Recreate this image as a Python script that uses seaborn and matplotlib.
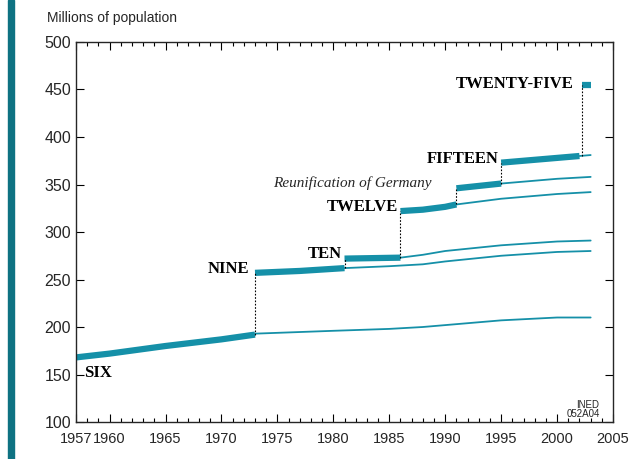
import matplotlib
matplotlib.use("Agg")
import matplotlib.pyplot as plt
from matplotlib.ticker import MultipleLocator, FixedLocator
import seaborn as sns

# thick segments: population of the Union at each composition
six_years = [1957, 1960, 1965, 1970, 1973]
six_pop = [168, 172, 180, 187, 192]
nine_years = [1973, 1977, 1981]
nine_pop = [257, 259, 262]
ten_years = [1981, 1986]
ten_pop = [272, 273]
twelve_years = [1986, 1988, 1990, 1991]
twelve_pop = [322, 323.5, 326.5, 329]
twelve_ger_years = [1991, 1995]
twelve_ger_pop = [346, 351]
fifteen_years = [1995, 1998, 2002]
fifteen_pop = [373, 376, 380]
tf_years = [2002.2, 2003]
tf_pop = [455, 455]

# thin continuations
six_thin_years = [1973, 1980, 1985, 1988, 1990, 1995, 2000, 2003]
six_thin_pop = [193, 196, 198, 200, 202, 207, 210, 210]
nine_thin_years = [1981, 1985, 1988, 1990, 1995, 2000, 2003]
nine_thin_pop = [262, 264, 266, 269, 275, 279, 280]
ten_thin_years = [1986, 1988, 1990, 1995, 2000, 2003]
ten_thin_pop = [273, 276, 280, 286, 290, 291]
twelve_thin_years = [1991, 1995, 2000, 2003]
twelve_thin_pop = [329, 335, 340, 342]
twelve_ger_thin_years = [1995, 2000, 2003]
twelve_ger_thin_pop = [351, 356, 358]
fifteen_thin_years = [2002, 2003]
fifteen_thin_pop = [380, 381]

# dotted links at each enlargement (year, from, to)
links = [(1973, 192, 257), (1981, 262, 272), (1986, 273, 322),
         (1991, 329, 346), (1995, 351, 373), (2002.2, 380, 455)]

labels = [("SIX", 1957.7, 152, "left"), ("NINE", 1972.5, 261, "right"),
          ("TEN", 1980.8, 277, "right"), ("TWELVE", 1985.8, 326, "right"),
          ("FIFTEEN", 1994.8, 377, "right"), ("TWENTY-FIVE", 2001.5, 456, "right")]

teal = "#1590a8"

sns.set_style("ticks")
plt.rcParams["font.family"] = ["Liberation Sans", "DejaVu Sans"]
serif = ["Liberation Serif", "DejaVu Serif"]

fig = plt.figure(figsize=(6.35, 4.59), dpi=100)
ax = fig.add_axes([0.1197, 0.0806, 0.8457, 0.8279])

thick = [(six_years, six_pop), (nine_years, nine_pop), (ten_years, ten_pop),
         (twelve_years, twelve_pop), (twelve_ger_years, twelve_ger_pop),
         (fifteen_years, fifteen_pop), (tf_years, tf_pop)]
thin = [(six_thin_years, six_thin_pop), (nine_thin_years, nine_thin_pop),
        (ten_thin_years, ten_thin_pop), (twelve_thin_years, twelve_thin_pop),
        (twelve_ger_thin_years, twelve_ger_thin_pop),
        (fifteen_thin_years, fifteen_thin_pop)]

for x, y in thin:
    sns.lineplot(x=x, y=y, ax=ax, color=teal, linewidth=1.3)
for x, y in thick:
    sns.lineplot(x=x, y=y, ax=ax, color=teal, linewidth=4.5, solid_capstyle="butt")

for yr, lo, hi in links:
    ax.plot([yr, yr], [lo, hi], color="black", linestyle=(0, (1.5, 1.5)), linewidth=0.8)

for txt, x, y, ha in labels:
    ax.text(x, y, txt, ha=ha, va="center", fontsize=12, fontweight="bold",
            family=serif, color="black")
ax.text(1988.8, 351, "Reunification of Germany", ha="right", va="center",
        fontsize=11, style="italic", family=serif)

ax.text(2003.8, 103, "INED\n052A04", ha="right", va="bottom", fontsize=7, linespacing=0.95)

ax.set_xlim(1957, 2005)
ax.set_ylim(100, 500)
ax.xaxis.set_major_locator(FixedLocator([1957, 1960, 1965, 1970, 1975, 1980, 1985,
                                         1990, 1995, 2000, 2005]))
ax.xaxis.set_minor_locator(MultipleLocator(1))
ax.yaxis.set_major_locator(MultipleLocator(50))
ax.tick_params(which="both", direction="in", top=True, right=True,
               width=0.8, color="black")
ax.tick_params(axis="y", labelsize=11.5)
ax.tick_params(axis="x", labelsize=10.5, pad=7)
ax.tick_params(which="major", length=6)
ax.tick_params(which="minor", length=3)
for s in ax.spines.values():
    s.set_linewidth(1.0)
ax.set_xlabel("")
ax.set_ylabel("")

fig.text(47 / 635, 1 - 18 / 459, "Millions of population", ha="left", va="center", fontsize=10)

# vertical coloured bar on the left edge
fig.patches.append(plt.Rectangle((8 / 635, 0), 6 / 635, 1, transform=fig.transFigure,
                                 color="#0e7282", zorder=0))

fig.savefig("out.png", dpi=100)
